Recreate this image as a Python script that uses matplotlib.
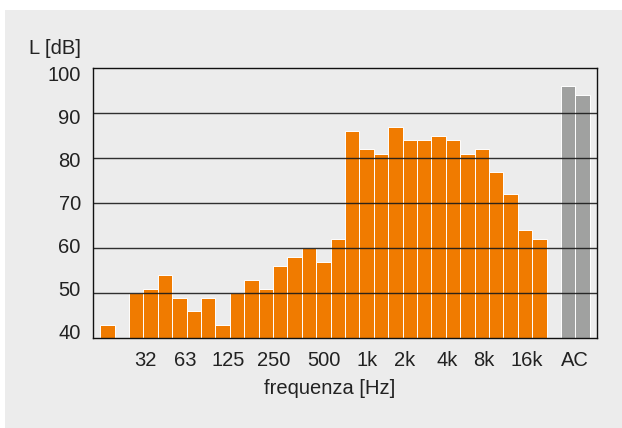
import matplotlib
matplotlib.use("Agg")
import matplotlib.pyplot as plt
from matplotlib.patches import Rectangle

# ---- data ----
band_levels = [43, None, 50, 51, 54, 49, 46, 49, 43, 50, 53, 51, 56, 58, 60, 57,
               62, 86, 82, 81, 87, 84, 84, 85, 84, 81, 82, 77, 72, 64, 62]
total_levels = [96, 94]          # A and C weighted totals
tick_labels = ["32", "63", "125", "250", "500", "1k", "2k", "4k", "8k", "16k", "AC"]
y_values = [40, 50, 60, 70, 80, 90, 100]

# ---- layout ----
tick_slots = [2.61, 5.39, 8.39, 11.52, 15.07, 18.06, 20.63, 23.62, 26.13, 29.12, 32.46]
total_slots = [32, 33]
ORANGE = "#F07B00"
GREY = "#A0A1A0"
BG = "#ECECEC"
FONT = "Liberation Sans"
FS = 14.5

plt.rcParams["font.family"] = [FONT, "DejaVu Sans"]

fig = plt.figure(figsize=(6.22, 4.28), dpi=100)
fig.patch.set_facecolor("white")
fig.patches.append(Rectangle((5 / 622, 0), 1, 1 - 10 / 428, transform=fig.transFigure,
                             facecolor=BG, edgecolor="none", zorder=-10))

ax = fig.add_axes([93 / 622, 1 - 338 / 428, (597 - 93) / 622, (338 - 68.3) / 428])
ax.set_facecolor(BG)

xs = [i for i, v in enumerate(band_levels) if v is not None]
hs = [v - 40 for v in band_levels if v is not None]
ax.bar(xs, hs, bottom=40, width=1.0, color=ORANGE, edgecolor="white", linewidth=0.7, zorder=2)
ax.bar(total_slots, [v - 40 for v in total_levels], bottom=40, width=1.0, color=GREY,
       edgecolor="white", linewidth=0.7, zorder=2)

ax.set_xlim(-1, 34)
ax.set_ylim(40, 100)

for v in y_values[1:-1]:
    ax.axhline(v, color="#1a1a1a", lw=1.0, alpha=0.9, zorder=3)

for s in ax.spines.values():
    s.set_color("#111111")
    s.set_linewidth(1.0)
    s.set_zorder(4)

ax.set_yticks([])
ax.set_xticks(tick_slots)
ax.set_xticklabels(tick_labels, fontsize=FS, color="#222222")
ax.tick_params(axis="x", length=0, pad=9)

# y labels (slightly compressed relative to gridlines, as in the original)
for v in y_values:
    ypos = 98.5 - (100 - v) * 0.957
    ax.text(-1.85, ypos, str(v), ha="right", va="center", fontsize=FS, color="#222222")

fig.text(29 / 622, 1 - 48 / 428, "L [dB]", ha="left", va="center", fontsize=FS, color="#222222")
fig.text(330 / 622, 1 - 389 / 428, "frequenza [Hz]", ha="center", va="center", fontsize=FS,
         color="#222222")

fig.savefig("out.png", dpi=100, facecolor=fig.get_facecolor())
